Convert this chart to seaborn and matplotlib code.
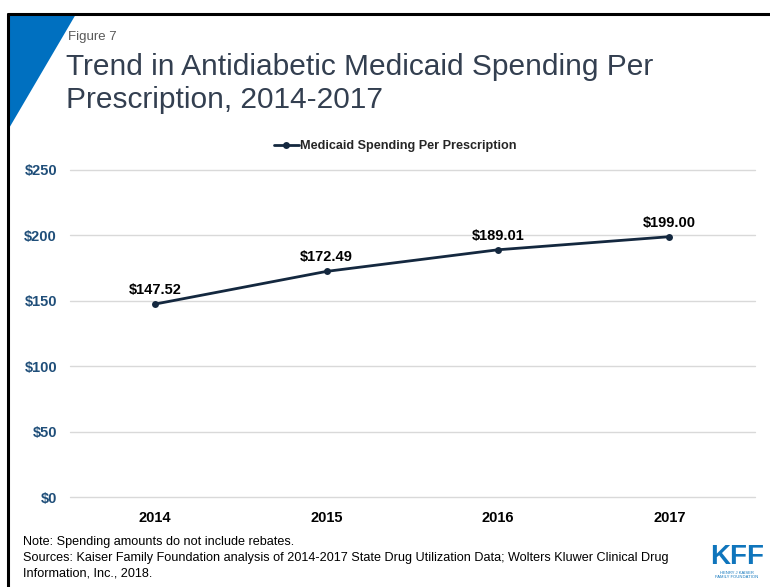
import matplotlib
matplotlib.use("Agg")
import matplotlib.pyplot as plt
import matplotlib.patches as mpatches
import seaborn as sns
import pandas as pd

years = ["2014", "2015", "2016", "2017"]
spending = [147.52, 172.49, 189.01, 199.00]
ytick_values = [0, 50, 100, 150, 200, 250]
ytick_labels = ["$0", "$50", "$100", "$150", "$200", "$250"]
series_name = "Medicaid Spending Per Prescription"

df = pd.DataFrame({"year": years, "spending": spending})

sns.set_theme(style="white")
plt.rcParams["font.family"] = ["Liberation Sans", "DejaVu Sans"]

fig = plt.figure(figsize=(7.7, 5.87), dpi=100)
ax = fig.add_axes([0.0903, 0.1533, 0.8903, 0.5571])

line_color = "#14283F"
sns.lineplot(data=df, x="year", y="spending", ax=ax, color=line_color,
             linewidth=2, marker="o", markersize=5, markeredgewidth=0,
             label=series_name, sort=False)

ax.set_xlim(-0.5, 3.5)
ax.set_ylim(0, 250)
ax.set_yticks(ytick_values)
ax.set_yticklabels(ytick_labels, fontsize=10.5, fontweight="bold", color="#1F4E79")
ax.set_xticks(range(len(years)))
ax.set_xticklabels(years, fontsize=10.5, fontweight="bold", color="#000000")
ax.tick_params(axis="y", length=0, pad=9)
ax.tick_params(axis="x", length=0, pad=10)
ax.set_xlabel("")
ax.set_ylabel("")
ax.grid(axis="y", color="#D9D9D9", linewidth=1)
for gl in ax.get_ygridlines():
    gl.set_clip_on(False)
ax.set_axisbelow(True)
for s in ax.spines.values():
    s.set_visible(False)

for i, v in enumerate(spending):
    ax.annotate(f"${v:.2f}", (i, v), xytext=(0, 5), textcoords="offset points",
                ha="center", va="bottom", fontsize=10.5, fontweight="bold",
                color="#000000")

leg = ax.legend(loc="center", bbox_to_anchor=(0.475, 1.073), frameon=False,
                prop={"size": 9.1, "weight": "bold"}, handlelength=2.0,
                handletextpad=0.1, borderaxespad=0)

# Frame and corner accent
fig.add_artist(mpatches.Polygon([[8 / 770, 1 - 14 / 587], [76 / 770, 1 - 14 / 587],
                                 [8 / 770, 1 - 130 / 587]], closed=True,
                                transform=fig.transFigure, color="#0070C0", lw=0))
fig.add_artist(plt.Line2D([7.5 / 770, 1.0], [1 - 13.5 / 587, 1 - 13.5 / 587],
                          transform=fig.transFigure, color="black", lw=2.2))
fig.add_artist(plt.Line2D([7.5 / 770, 7.5 / 770], [0, 1 - 13.5 / 587],
                          transform=fig.transFigure, color="black", lw=2.2))

fig.text(68 / 770, 1 - 37 / 587, "Figure 7", fontsize=9.5, color="#595959",
         va="center", ha="left")
fig.text(66 / 770, 1 - 67 / 587, "Trend in Antidiabetic Medicaid Spending Per",
         fontsize=21.5, color="#333F50", va="center", ha="left")
fig.text(66 / 770, 1 - 100 / 587, "Prescription, 2014-2017",
         fontsize=21.5, color="#333F50", va="center", ha="left")

note_lines = [
    "Note: Spending amounts do not include rebates.",
    "Sources: Kaiser Family Foundation analysis of 2014-2017 State Drug Utilization Data; Wolters Kluwer Clinical Drug",
    "Information, Inc., 2018.",
]
for k, t in enumerate(note_lines):
    fig.text(23 / 770, 1 - (542 + 16 * k) / 587, t, fontsize=9.1,
             color="#000000", va="center", ha="left")

fig.text(737 / 770, 1 - 557 / 587, "KFF", fontsize=20, fontweight="bold",
         color="#0F75BC", va="center", ha="center")
fig.text(737 / 770, 1 - 575 / 587, "HENRY J KAISER\nFAMILY FOUNDATION",
         fontsize=3, color="#0F75BC", va="center", ha="center", linespacing=1.0)

fig.savefig("out.png", dpi=100, facecolor="white")
